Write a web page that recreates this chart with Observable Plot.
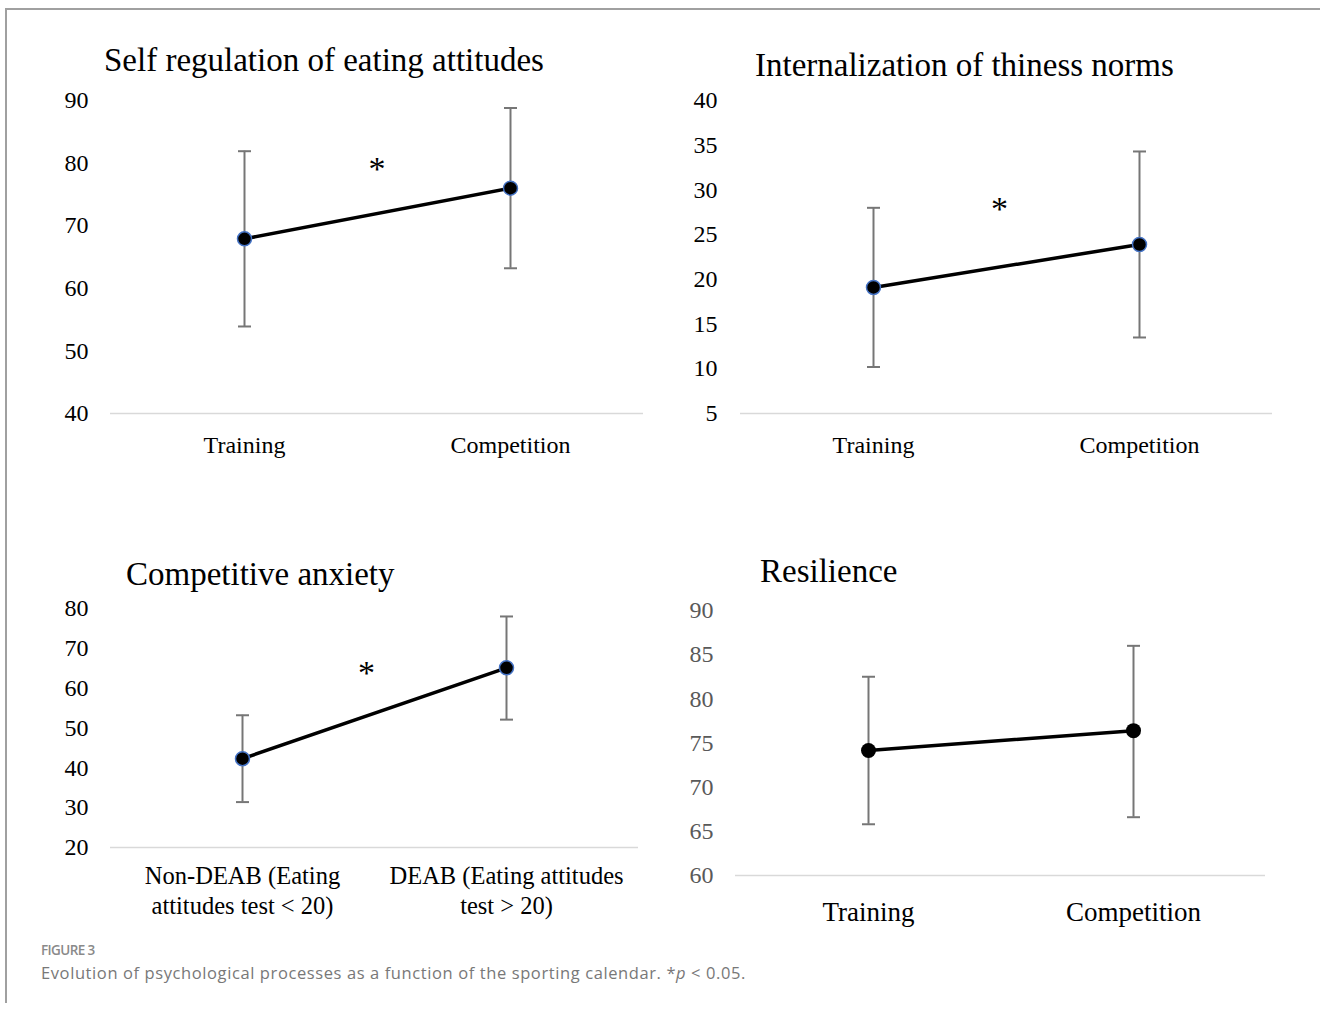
<!DOCTYPE html>
<html>
<head>
<meta charset="utf-8">
<script src="https://cdn.jsdelivr.net/npm/d3@7"></script>
<script src="https://cdn.jsdelivr.net/npm/@observablehq/plot@0.6"></script>
<style>
  body { margin: 0; background: #fff; }
  #fig { position: relative; width: 1320px; height: 1009px; overflow: hidden; background: #fff; }
  .frame { position: absolute; left: 5px; top: 8px; width: 1330px; height: 995px;
           border-top: 2px solid #a0a0a0; border-left: 2px solid #a0a0a0; box-sizing: border-box; }
  .title { position: absolute; font-family: "Liberation Serif", "Times New Roman", serif;
           font-size: 33px; line-height: 33px; color: #000; white-space: nowrap; }
  .panel { position: absolute; }
  .panel svg text { font-family: "Liberation Serif", "Times New Roman", serif; }
  .figlabel { position: absolute; left: 41px; top: 944px; font-family: "Open Sans", sans-serif;
              font-size: 13.5px; line-height: 12px; font-weight: 600; color: #8a8a8a; letter-spacing: -0.6px; white-space: nowrap; }
  .figcap { position: absolute; left: 41px; top: 964px; font-family: "Open Sans", sans-serif;
            font-size: 16.5px; line-height: 17px; letter-spacing: 0.6px; color: #787878; white-space: nowrap; }
</style>
</head>
<body>
<div id="fig">
  <div class="frame"></div>
  <div class="title" style="left:104px; top:44px;">Self regulation of eating attitudes</div>
  <div class="title" style="left:755px; top:49px;">Internalization of thiness norms</div>
  <div class="title" style="left:126px; top:558px;">Competitive anxiety</div>
  <div class="title" style="left:760px; top:555px;">Resilience</div>
  <div class="panel" id="p1" style="left:0px; top:80px;"></div>
  <div class="panel" id="p2" style="left:660px; top:80px;"></div>
  <div class="panel" id="p3" style="left:0px; top:580px;"></div>
  <div class="panel" id="p4" style="left:660px; top:590px;"></div>
  <div class="figlabel">FIGURE 3</div>
  <div class="figcap">Evolution of psychological processes as a function of the sporting calendar. *<i>p</i> &lt; 0.05.</div>
</div>
<script>
// ---- Data ----
const periodCategories = ["Training", "Competition"];
const deabCategories = ["Non-DEAB (Eating\nattitudes test < 20)", "DEAB (Eating attitudes\ntest > 20)"];

const selfRegMean = [67.9, 76.0];
const selfRegLow  = [53.9, 63.2];
const selfRegHigh = [81.9, 88.8];
const selfRegTicks = [40, 50, 60, 70, 80, 90];
const selfRegStar = [79.0];

const thinMean = [19.1, 23.9];
const thinLow  = [10.2, 13.5];
const thinHigh = [28.0, 34.3];
const thinTicks = [5, 10, 15, 20, 25, 30, 35, 40];
const thinStar = [27.9];

const anxMean = [42.3, 65.1];
const anxLow  = [31.4, 52.1];
const anxHigh = [53.2, 78.0];
const anxTicks = [20, 30, 40, 50, 60, 70, 80];
const anxStar = [63.7];

const resMean = [74.15, 76.4];
const resLow  = [65.8, 66.6];
const resHigh = [82.5, 86.0];
const resTicks = [60, 65, 70, 75, 80, 85, 90];
const resStar = [];

// ---- Drawing ----
const SERIF = '"Liberation Serif", "Times New Roman", serif';
const capSymbol = {
  draw(context) { context.moveTo(-6.5, 0); context.lineTo(6.5, 0); }
};

function makePanel(cfg) {
  const rows = cfg.cats.map((c, i) => ({cat: c, mean: cfg.mean[i], low: cfg.low[i], high: cfg.high[i]}));
  const errColor = "#767676";
  return Plot.plot({
    width: cfg.width, height: cfg.height,
    marginTop: cfg.mt, marginRight: cfg.mr, marginBottom: cfg.mb, marginLeft: cfg.ml,
    style: {fontFamily: SERIF, fontSize: "24px", color: "#000", background: "transparent", overflow: "visible"},
    x: {type: "point", domain: cfg.cats, padding: 0.5, align: 0.5},
    y: {domain: [cfg.ticks[0], cfg.ticks[cfg.ticks.length - 1]]},
    marks: [
      Plot.ruleY([cfg.ticks[0]], {stroke: "#d9d9d9", strokeWidth: 1.5}),
      Plot.axisY({ticks: cfg.ticks, tickSize: 0, tickPadding: cfg.yPad, fontSize: 24, fontFamily: SERIF, fontVariant: "normal", fill: cfg.tickColor, label: null}),
      Plot.axisX({tickSize: 0, tickPadding: cfg.xPad, fontSize: cfg.xFont, fontFamily: SERIF, lineHeight: 1.2, fill: "#000", label: null}),
      Plot.ruleX(rows, {x: "cat", y1: "low", y2: "high", stroke: errColor, strokeWidth: 2}),
      Plot.dot(rows, {x: "cat", y: "high", symbol: capSymbol, fill: "none", stroke: errColor, strokeWidth: 2}),
      Plot.dot(rows, {x: "cat", y: "low", symbol: capSymbol, fill: "none", stroke: errColor, strokeWidth: 2}),
      Plot.line(rows, {x: "cat", y: "mean", stroke: "#000", strokeWidth: 3.5}),
      Plot.dot(rows, {x: "cat", y: "mean", r: cfg.r, fill: "#000", stroke: cfg.dotStroke, strokeWidth: cfg.dotStrokeWidth}),
      Plot.text(cfg.star, {y: d => d, text: () => "*", frameAnchor: "middle", dx: cfg.starDx, fontSize: 34, fontFamily: SERIF, fill: "#000"})
    ]
  });
}

document.getElementById("p1").append(makePanel({
  cats: periodCategories, mean: selfRegMean, low: selfRegLow, high: selfRegHigh, ticks: selfRegTicks, star: selfRegStar,
  width: 660, height: 400, mt: 20, mr: 17, mb: 67, ml: 110, yPad: 22, xPad: 19, xFont: 24,
  tickColor: "#000", r: 7, dotStroke: "#4472C4", dotStrokeWidth: 1.5, starDx: 0
}));
document.getElementById("p2").append(makePanel({
  cats: periodCategories, mean: thinMean, low: thinLow, high: thinHigh, ticks: thinTicks, star: thinStar,
  width: 660, height: 400, mt: 20, mr: 48, mb: 67, ml: 80, yPad: 23, xPad: 19, xFont: 24,
  tickColor: "#000", r: 7, dotStroke: "#4472C4", dotStrokeWidth: 1.5, starDx: -7
}));
document.getElementById("p3").append(makePanel({
  cats: deabCategories, mean: anxMean, low: anxLow, high: anxHigh, ticks: anxTicks, star: anxStar,
  width: 660, height: 350, mt: 28, mr: 22, mb: 83, ml: 110, yPad: 22, xPad: 16, xFont: 24.5,
  tickColor: "#000", r: 7, dotStroke: "#4472C4", dotStrokeWidth: 1.5, starDx: -8
}));
document.getElementById("p4").append(makePanel({
  cats: periodCategories, mean: resMean, low: resLow, high: resHigh, ticks: resTicks, star: resStar,
  width: 660, height: 340, mt: 20, mr: 55, mb: 55, ml: 75, yPad: 22, xPad: 22, xFont: 27,
  tickColor: "#595959", r: 7.5, dotStroke: "none", dotStrokeWidth: 0, starDx: 0
}));
</script>
</body>
</html>
